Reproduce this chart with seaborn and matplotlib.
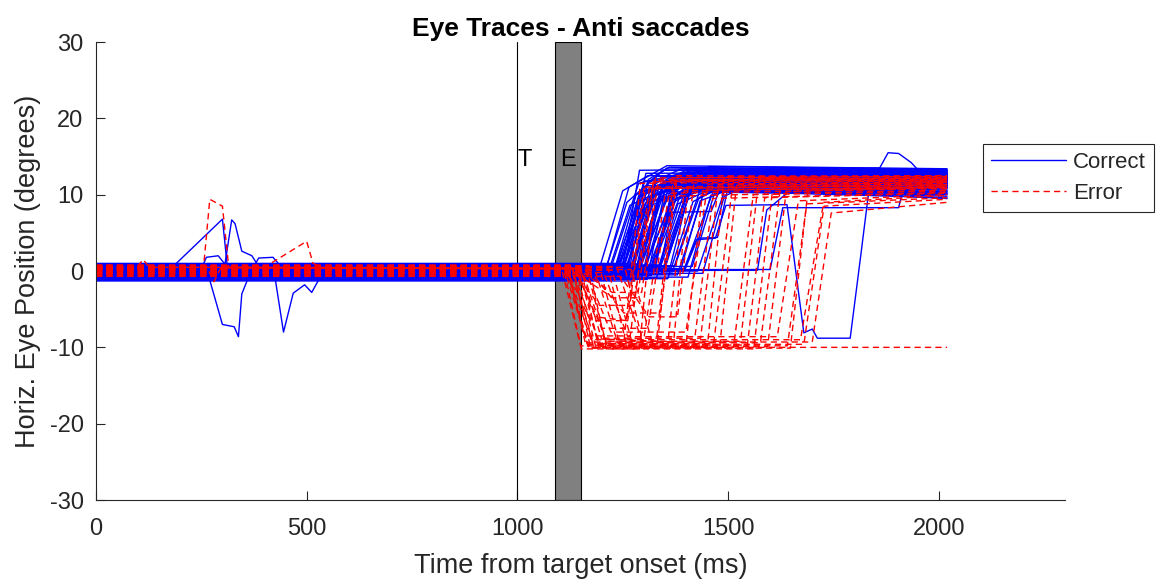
import numpy as np
import pandas as pd
import matplotlib
matplotlib.use("Agg")
import matplotlib.pyplot as plt
import seaborn as sns

sns.set_style("ticks")
plt.rcParams['font.family'] = ['Liberation Sans', 'DejaVu Sans']
plt.rcParams['axes.unicode_minus'] = False

# ---------------- data ----------------
trace_end = 2020          # ms, last sample of every trial
target_time = 1000        # "T" marker
epoch_start, epoch_end = 1090, 1150   # grey "E" band

# Correct (anti-saccade) trials
correct_base = [0.4, -0.8, 0.6, -0.3, 0.9, -1.2, 0.1, 0.5, -0.5, 0.8, -1.0, 0.2, -0.1, 0.6, -0.7,
                0.3, 1.0, -0.9, 0.0, 0.5, -0.4, 0.7, -1.3, 0.2, 0.6, -0.5, 0.1, 0.9, -0.8, 0.3,
                -0.2, 0.7, -1.1, 0.4, 0.0, -0.6, 0.6, 0.2, -0.9, 0.3, 0.8, -0.4, 0.1, 0.6, -1.0,
                0.4, -0.1, 0.7, -0.5, 0.2, 0.3, -0.8, 0.6, 0.0, -0.3, 0.5, -0.6, 0.9, 0.1, -0.4]
correct_onset = [1195, 1205, 1212, 1218, 1222, 1226, 1230, 1233, 1236, 1240, 1243, 1246, 1249, 1252, 1255,
                 1258, 1261, 1264, 1267, 1270, 1272, 1275, 1278, 1281, 1284, 1287, 1290, 1293, 1296, 1299,
                 1302, 1305, 1308, 1311, 1314, 1318, 1322, 1326, 1330, 1334, 1338, 1342, 1347, 1352, 1357,
                 1362, 1368, 1374, 1380, 1388, 1396, 1405, 1415, 1428, 1440, 1238, 1262, 1288, 1316, 1345]
correct_dur = [55, 60, 48, 70, 45, 65, 52, 58, 75, 50, 62, 44, 68, 56, 47, 72, 53, 60, 49, 66,
               57, 46, 71, 54, 63, 51, 59, 74, 48, 67, 55, 61, 45, 69, 52, 58, 64, 50, 73, 47,
               62, 56, 68, 53, 60, 49, 71, 57, 65, 46, 70, 54, 59, 63, 51, 66, 48, 58, 61, 55]
correct_knee = [10.5, 11.0, 9.0, 11.5, 8.6, 10.4, 10.0, 9.8, 12.0, 9.0, 10.2, 9.9, 10.8, 10.6, 8.2,
                11.9, 9.7, 10.3, 9.4, 10.9, 10.8, 9.1, 10.5, 9.6, 11.8, 10.1, 9.0, 11.0, 11.2, 8.9,
                10.6, 9.5, 11.4, 10.0, 9.2, 10.7, 9.8, 11.6, 10.2, 8.8, 10.9, 9.7, 11.0, 10.3, 9.1,
                11.1, 11.5, 9.6, 10.7, 9.2, 10.6, 9.9, 11.3, 10.4, 9.8, 8.9, 11.6, 10.8, 9.5, 10.2]
correct_settle = [60, 90, 45, 110, 70, 55, 80, 100, 50, 75, 120, 65, 85, 40, 95, 60, 105, 70, 50, 90,
                  75, 115, 55, 80, 65, 100, 45, 85, 70, 60, 95, 50, 110, 75, 65, 90, 55, 80, 100, 70,
                  45, 85, 60, 120, 75, 95, 50, 65, 105, 80, 55, 90, 70, 60, 85, 100, 45, 75, 110, 65]
correct_peak = [12.5, 13.8, 11.2, 12.9, 10.4, 13.2, 11.8, 12.1, 13.6, 10.9, 12.4, 11.5, 13.0, 12.2, 10.6,
                13.4, 11.9, 12.7, 11.1, 13.1, 12.3, 10.8, 12.8, 11.6, 13.5, 12.0, 11.3, 12.6, 13.3, 10.7,
                12.4, 11.7, 13.0, 12.2, 11.0, 12.9, 11.4, 13.7, 12.1, 10.5, 12.6, 11.8, 13.2, 12.0, 11.2,
                12.7, 13.4, 11.5, 12.3, 10.9, 12.8, 11.6, 13.1, 12.2, 11.9, 10.6, 13.5, 12.5, 11.3, 12.0]
correct_final = [12.2, 13.4, 11.0, 12.6, 10.0, 12.9, 11.5, 12.3, 13.2, 10.4, 12.0, 11.2, 12.7, 12.5, 10.2,
                 13.0, 11.6, 12.4, 10.8, 12.8, 12.0, 10.3, 12.5, 11.3, 13.1, 11.8, 11.0, 12.2, 13.0, 9.8,
                 12.1, 11.4, 12.6, 11.9, 10.6, 12.5, 11.1, 13.3, 11.8, 9.6, 12.3, 11.5, 12.8, 11.7, 10.9,
                 12.4, 13.1, 11.2, 12.0, 9.5, 12.4, 11.3, 12.7, 11.9, 11.6, 10.1, 13.2, 12.1, 11.0, 11.7]

# Correct trials with irregular shapes (time ms, position deg)
cs1_t = [0, 183, 300, 312, 1250, 1300, 2020];  cs1_y = [-0.3, 0.6, 6.8, 0.4, 0.0, 11.8, 12.0]
cs2_t = [0, 250, 262, 290, 306, 322, 330, 346, 370, 388, 1282, 1330, 2020]
cs2_y = [0.2, 0.3, 1.8, 2.0, 0.9, 6.7, 6.2, 2.6, 2.0, 0.4, 0.2, 12.4, 12.6]
cs3_t = [0, 270, 300, 328, 338, 346, 362, 1300, 1345, 2020]
cs3_y = [-0.6, -1.2, -7.0, -7.3, -8.6, -3.0, -0.8, -0.4, 11.3, 11.5]
cs4_t = [0, 425, 445, 468, 495, 512, 535, 1322, 1372, 2020]
cs4_y = [-0.4, -0.9, -8.0, -2.9, -1.8, -2.8, -0.5, -0.3, 11.9, 12.1]
cs5_t = [0, 372, 386, 420, 442, 1262, 1305, 2020];  cs5_y = [0.1, 0.3, 1.7, 1.8, 0.4, 0.3, 12.8, 13.0]
cs6_t = [0, 1398, 1428, 1475, 1500, 2020];  cs6_y = [0.0, 0.2, 4.3, 4.4, 11.0, 11.4]
cs7_t = [0, 1395, 1425, 1470, 1495, 1640, 1680, 1700, 1712, 1790, 1815, 1834, 2020]
cs7_y = [-0.2, 0.0, 4.1, 4.3, 8.6, 8.7, -8.1, -7.6, -8.8, -8.8, 2.0, 10.4, 10.8]
cs8_t = [0, 1600, 1630, 1905, 1920, 2020];  cs8_y = [0.1, 0.2, 8.3, 8.3, 11.8, 12.0]
cs9_t = [0, 1570, 1592, 1640, 2020];  cs9_y = [-0.1, 0.1, 8.0, 10.2, 10.5]
cs10_t = [0, 1250, 1290, 1860, 1880, 1905, 1935, 1955, 2020]
cs10_y = [0.4, 0.5, 13.2, 13.5, 15.5, 15.4, 14.2, 13.0, 12.8]
cs11_t = [0, 1340, 1365, 1460, 1490, 2020];  cs11_y = [0.3, 0.5, 7.7, 7.8, 12.0, 12.2]

# Error trials
error_base = [0.3, 0.6, -0.2, 0.7, 0.1, 0.4, -0.5, 0.5, 0.2, 0.8, -0.3, 0.4, 0.0, 0.6, -0.6, 0.5,
              -0.1, 0.3, 0.2, 0.7, -0.4, 0.0, 0.5, -0.2, 0.4, 0.1, 0.6, -0.7, 0.5, 0.2, 0.4, -0.3]
error_dip_onset = [1105, 1110, 1112, 1115, 1118, 1120, 1122, 1125, 1128, 1130, 1133, 1136, 1140, 1143, 1147, 1150,
                   1155, 1160, 1165, 1170, 1178, 1185, 1195, 1205, 1215, 1225, 1235, 1245, 1255, 1270, 1140, 1120]
error_dip_dur = [45, 50, 40, 60, 55, 42, 48, 70, 52, 44, 58, 65, 46, 50, 80, 43,
                 55, 62, 47, 41, 75, 53, 49, 57, 45, 51, 60, 68, 44, 50, 85, 48]
error_dip = [-9.8, -8.5, -10.2, -9.0, -6.5, -9.6, -10.0, -4.5, -9.3, -10.1, -8.8, -7.5, -9.9, -9.5, -3.5, -10.0,
             -9.2, -8.0, -9.7, -10.2, -5.5, -9.4, -9.9, -8.6, -9.8, -10.1, -9.0, -6.0, -9.6, -9.3, -2.8, -10.0]
error_corr_onset = [1252, 1268, 1290, 1300, 1262, 1332, 1356, 1275, 1371, 1418, 1435, 1310, 1451, 1466, 1285, 1513,
                    1530, 1400, 1546, 1561, 1340, 1577, 1594, 1617, 1641, 1648, 1672, 1380, 1680, 1700, 1295, None]
error_corr_dur = [40, 45, 38, 50, 42, 44, 40, 48, 36, 46, 42, 50, 40, 44, 38, 47,
                  43, 52, 41, 45, 39, 48, 44, 50, 46, 42, 55, 40, 48, 45, 40, 0]
error_peak = [11.5, 10.8, 12.2, 9.8, 11.0, 12.5, 10.5, 11.8, 12.0, 9.5, 11.3, 10.2, 12.4, 10.9, 11.7, 10.0,
              12.1, 11.4, 9.6, 10.7, 12.3, 11.1, 10.4, 9.2, 8.8, 10.6, 9.0, 11.9, 8.5, 7.6, 12.0, -10.0]
error_final = [11.8, 11.2, 12.4, 10.6, 11.4, 12.3, 11.0, 12.0, 12.2, 10.3, 11.6, 10.8, 12.5, 11.3, 11.9, 10.5,
               12.0, 11.7, 10.2, 11.1, 12.1, 11.5, 10.9, 10.0, 9.6, 11.0, 9.9, 12.2, 9.4, 9.0, 11.8, -10.0]

# Error trials with irregular shapes
es1_t = [0, 255, 270, 300, 315, 1118, 1165, 1400, 1440, 2020]
es1_y = [0.3, 0.4, 9.4, 8.5, 0.5, 0.3, -9.4, -9.8, 10.6, 11.0]
es2_t = [0, 400, 500, 515, 540, 1130, 1180, 1480, 1520, 2020]
es2_y = [0.5, 0.5, 3.9, 1.0, 0.4, 0.3, -9.7, -10.0, 11.2, 11.6]
es3_t = [0, 98, 112, 126, 1150, 1200, 1330, 1370, 2020]
es3_y = [0.6, 0.6, 1.5, 0.5, 0.4, -8.9, -9.2, 11.9, 12.2]
es4_t = [0, 265, 280, 296, 1138, 1185, 1260, 1300, 2020]
es4_y = [0.2, 0.3, -1.4, 0.4, 0.3, -6.0, -6.5, 10.8, 11.3]

x_ticks = [0, 500, 1000, 1500, 2000]
y_ticks = [-30, -20, -10, 0, 10, 20, 30]

# ---------------- build long table ----------------
rows = []
trial = 0


def add(cond, ts, ys):
    global trial
    for t, y in zip(ts, ys):
        rows.append((trial, cond, t, y))
    trial += 1


for b, on, d, k, st, p, f in zip(correct_base, correct_onset, correct_dur, correct_knee,
                                 correct_settle, correct_peak, correct_final):
    add("Correct", [0, on, on + d, on + d + st, trace_end], [b, b, k, p, f])
for ts, ys in [(cs1_t, cs1_y), (cs2_t, cs2_y), (cs3_t, cs3_y), (cs4_t, cs4_y), (cs5_t, cs5_y),
               (cs6_t, cs6_y), (cs7_t, cs7_y), (cs8_t, cs8_y), (cs9_t, cs9_y), (cs10_t, cs10_y),
               (cs11_t, cs11_y)]:
    add("Correct", ts, ys)

for b, don, dd, dl, con, cd, pk, f in zip(error_base, error_dip_onset, error_dip_dur, error_dip,
                                          error_corr_onset, error_corr_dur, error_peak, error_final):
    if con is None:
        add("Error", [0, don, don + dd, trace_end], [b, b, dl, f])
    else:
        add("Error", [0, don, don + dd, con, con + cd, trace_end], [b, b, dl, dl, pk, f])
for ts, ys in [(es1_t, es1_y), (es2_t, es2_y), (es3_t, es3_y), (es4_t, es4_y)]:
    add("Error", ts, ys)

df = pd.DataFrame(rows, columns=["trial", "Outcome", "time", "pos"])

# ---------------- plot ----------------
fig = plt.figure(figsize=(11.64, 5.84), dpi=100)
ax = fig.add_axes([0.0825, 0.1438, 0.8325, 0.7842])

ax.axvspan(epoch_start, epoch_end, facecolor="#808080", edgecolor="black", lw=0.8, zorder=1)
ax.axvline(target_time, color="black", lw=0.8, zorder=1)

sns.lineplot(data=df, x="time", y="pos", hue="Outcome", style="Outcome", units="trial",
             estimator=None, sort=False, hue_order=["Correct", "Error"],
             palette={"Correct": (0, 0, 1), "Error": (1, 0, 0)},
             dashes={"Correct": "", "Error": (4.5, 3)}, lw=1.0, ax=ax, zorder=2)

ax.text(target_time, 14.6, "T", fontsize=17, ha="left", va="center", color="black")
ax.text((epoch_start + epoch_end) / 2, 14.6, "E", fontsize=17, ha="center", va="center", color="black")

ax.set_xlim(0, 2300)
ax.set_ylim(-30, 30)
ax.set_xticks(x_ticks)
ax.set_yticks(y_ticks)
dark = "#262626"
for s in ["top", "right"]:
    ax.spines[s].set_visible(False)
for s in ["left", "bottom"]:
    ax.spines[s].set_color(dark)
    ax.spines[s].set_linewidth(0.8)
ax.tick_params(direction="in", length=6.5, width=0.8, color=dark, labelcolor=dark,
               labelsize=17, pad=9)
ax.tick_params(axis="x", pad=13)

ax.set_title("Eye Traces - Anti saccades", fontsize=19, fontweight="bold", color="black", pad=4)
ax.set_xlabel("Time from target onset (ms)", fontsize=19.5, color=dark, labelpad=9)
ax.set_ylabel("Horiz. Eye Position (degrees)", fontsize=19.5, color=dark, labelpad=6)

handles, labels = ax.get_legend_handles_labels()
keep = [(h, l) for h, l in zip(handles, labels) if l in ("Correct", "Error")]
leg = ax.legend([h for h, _ in keep], [l for _, l in keep], loc="upper left",
                bbox_to_anchor=(0.9154, 0.777), borderaxespad=0, fontsize=16,
                handlelength=3.4, handletextpad=0.3, labelspacing=0.45, borderpad=0.35,
                fancybox=False, framealpha=1, edgecolor="#262626")
leg.get_frame().set_linewidth(0.8)

fig.savefig("out.png", dpi=100)
